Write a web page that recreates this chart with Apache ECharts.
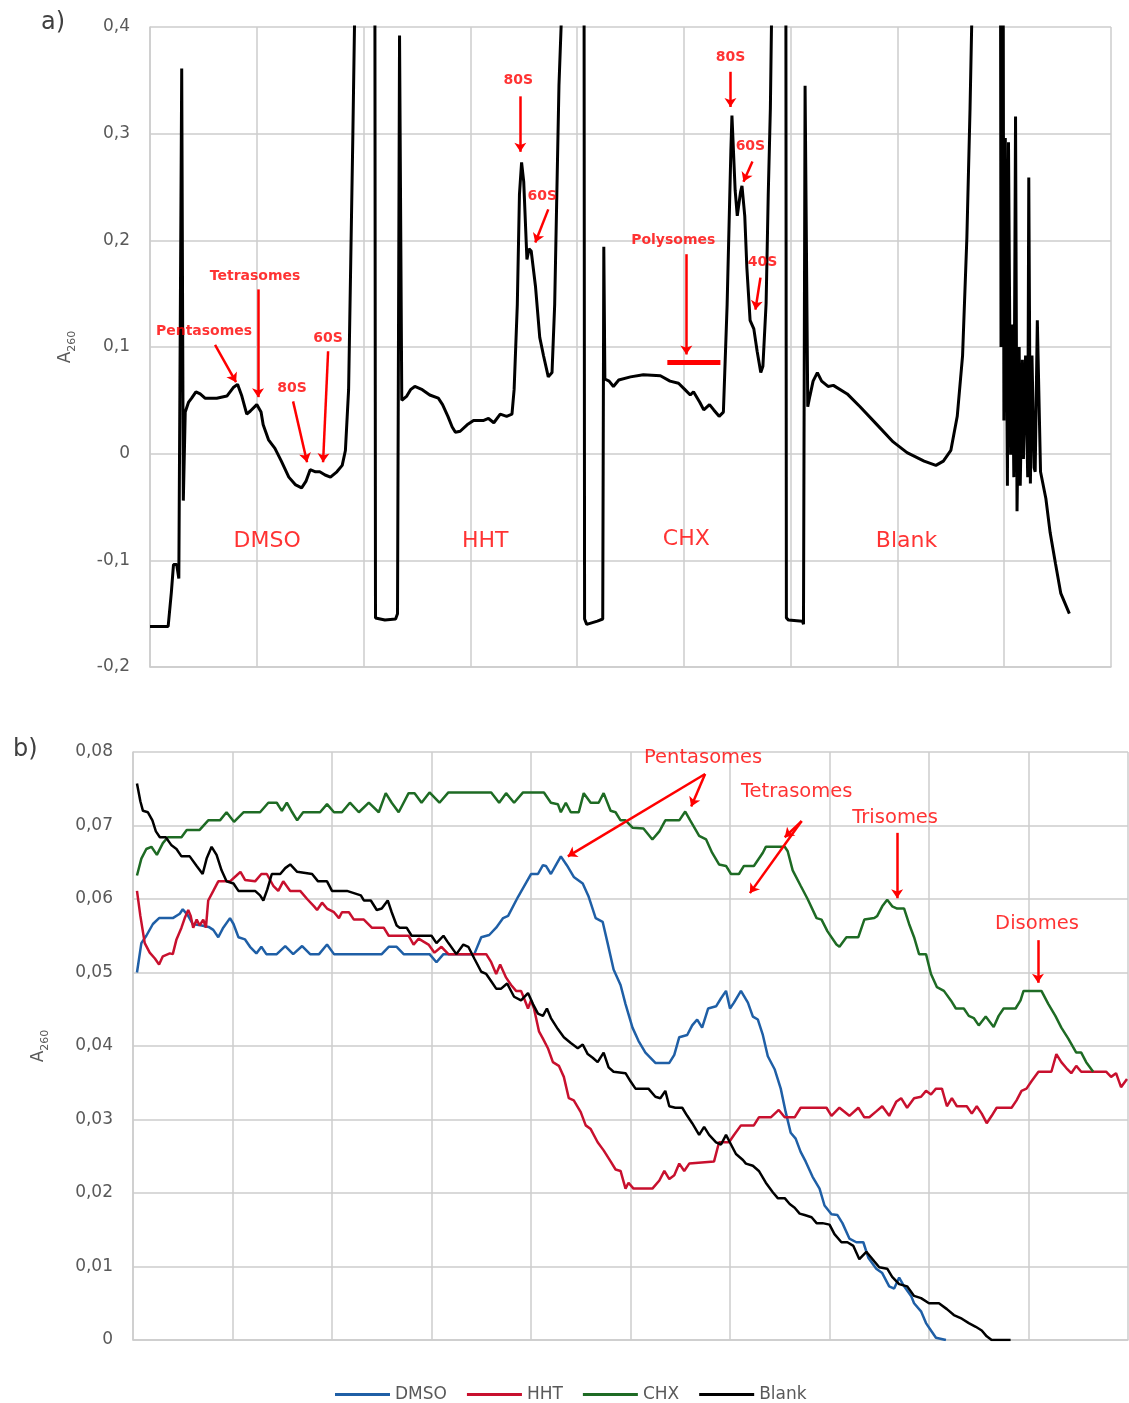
<!doctype html>
<html>
<head>
<meta charset="UTF-8">
<title>A260 profiles</title>
<script src="https://cdn.jsdelivr.net/npm/echarts@6/dist/echarts.min.js"></script>
<style>
html,body{margin:0;padding:0;background:#fff;}
#chart{width:1129px;height:1403px;}
</style>
</head>
<body>
<div id="chart"></div>
<script>
// panel a) : whole gradient trace, x in grid divisions
var topTrace = [
  [0,-0.162],[0.17,-0.162],[0.2,-0.13],[0.22,-0.104],[0.25,-0.104],[0.27,-0.117],[0.297,0.361],[0.312,-0.044],
  [0.33,0.039],[0.36,0.048],[0.39,0.052],[0.43,0.058],[0.47,0.056],[0.515,0.052],[0.625,0.052],[0.72,0.054],
  [0.78,0.062],[0.82,0.065],[0.86,0.054],[0.906,0.037],[0.94,0.040],[1.0,0.046],[1.04,0.039],[1.06,0.027],
  [1.11,0.013],[1.17,0.005],[1.23,-0.007],[1.30,-0.022],[1.36,-0.029],[1.42,-0.032],[1.46,-0.026],[1.50,-0.015],
  [1.55,-0.017],[1.59,-0.017],[1.64,-0.020],[1.69,-0.022],[1.75,-0.017],[1.80,-0.011],[1.83,0.003],[1.86,0.06],
  [1.88,0.18],[1.90,0.30],[1.915,0.40],[2.0,0.8],[2.106,0.45],[2.112,-0.154],[2.2,-0.156],[2.3,-0.155],
  [2.318,-0.15],[2.337,0.392],[2.358,0.05],[2.405,0.054],[2.44,0.06],[2.48,0.063],[2.55,0.06],[2.62,0.055],
  [2.70,0.052],[2.74,0.046],[2.79,0.035],[2.83,0.025],[2.86,0.020],[2.905,0.021],[2.97,0.027],[3.03,0.031],
  [3.12,0.031],[3.17,0.033],[3.22,0.029],[3.28,0.037],[3.34,0.035],[3.39,0.037],[3.41,0.06],[3.44,0.14],
  [3.46,0.243],[3.48,0.273],[3.50,0.255],[3.53,0.182],[3.55,0.192],[3.57,0.19],[3.61,0.157],[3.65,0.109],
  [3.685,0.092],[3.73,0.072],[3.765,0.076],[3.79,0.14],[3.81,0.243],[3.83,0.345],[3.85,0.4],[3.95,0.8],
  [4.065,0.45],[4.07,-0.155],[4.09,-0.16],[4.19,-0.157],[4.24,-0.155],[4.25,0.194],[4.26,0.07],[4.30,0.068],
  [4.34,0.063],[4.39,0.069],[4.50,0.072],[4.62,0.074],[4.78,0.073],[4.87,0.068],[4.95,0.066],[5.01,0.06],
  [5.06,0.055],[5.09,0.058],[5.15,0.048],[5.186,0.041],[5.24,0.046],[5.28,0.041],[5.33,0.035],[5.37,0.039],
  [5.405,0.14],[5.44,0.284],[5.45,0.317],[5.48,0.247],[5.50,0.223],[5.53,0.245],[5.544,0.251],[5.57,0.223],
  [5.59,0.174],[5.62,0.125],[5.655,0.117],[5.686,0.096],[5.72,0.076],[5.74,0.082],[5.77,0.141],[5.79,0.243],
  [5.81,0.324],[5.82,0.4],[5.88,0.8],[5.955,0.45],[5.96,-0.154],[5.98,-0.156],[6.11,-0.157],[6.12,-0.16],
  [6.135,0.345],[6.16,0.044],[6.18,0.054],[6.21,0.068],[6.25,0.076],[6.29,0.068],[6.35,0.063],[6.40,0.064],
  [6.53,0.056],[6.65,0.044],[6.81,0.027],[6.96,0.011],[7.09,0.001],[7.25,-0.007],[7.36,-0.011],[7.43,-0.007],
  [7.5,0.003],[7.56,0.035],[7.61,0.092],[7.65,0.202],[7.68,0.324],[7.695,0.4],[7.8,0.8],[7.962,0.45],
  [7.966,0.4],[7.97,0.1],[7.99,0.45],[7.997,0.031],[8.01,0.296],[8.03,-0.03],[8.04,0.292],[8.06,-0.001],
  [8.075,0.121],[8.09,-0.022],[8.106,0.316],[8.12,-0.054],[8.14,0.1],[8.15,-0.03],[8.17,0.088],[8.18,-0.005],
  [8.20,0.092],[8.22,-0.022],[8.23,0.259],[8.245,-0.028],[8.26,0.092],[8.28,-0.013],[8.29,-0.017],[8.31,0.125],
  [8.325,0.125],[8.34,-0.017],[8.39,-0.042],[8.43,-0.074],[8.48,-0.103],[8.53,-0.131],[8.61,-0.15]
];

var topLabels = [
  ['Pentasomes',0.506,0.115],['Tetrasomes',0.984,0.166],['80S',1.331,0.061],['60S',1.668,0.108],
  ['80S',3.449,0.35],['60S',3.674,0.241],['Polysomes',4.90,0.2],['80S',5.436,0.372],['60S',5.623,0.288],['40S',5.736,0.179]
];
var topGroups = [['DMSO',1.097,-0.082],['HHT',3.14,-0.082],['CHX',5.023,-0.08],['Blank',7.085,-0.082]];
var topArrows = [
  [0.609,0.102,0.806,0.067],[1.012,0.154,1.012,0.053],[1.34,0.049,1.471,-0.008],[1.668,0.096,1.621,-0.008],
  [3.468,0.335,3.468,0.283],[3.73,0.229,3.608,0.198],[5.023,0.187,5.023,0.093],
  [5.436,0.358,5.436,0.325],[5.642,0.274,5.558,0.255],[5.717,0.165,5.67,0.135]
];
var polysomeBar = [4.845,5.342,0.086];

// panel b) : zoom on the polysome region
var dmso = [
  [0.04,0.050],[0.084,0.054],[0.134,0.055],[0.2,0.0566],[0.262,0.0574],[0.4,0.0574],[0.47,0.058],[0.5,0.0586],
  [0.55,0.0578],[0.6,0.0566],[0.69,0.0564],[0.76,0.0562],[0.807,0.0558],[0.857,0.0548],[0.907,0.0561],[0.975,0.0574],
  [1.01,0.0566],[1.06,0.0548],[1.126,0.0545],[1.176,0.0535],[1.24,0.0526],[1.29,0.0535],[1.34,0.0525],[1.445,0.0525],
  [1.53,0.0536],[1.61,0.0525],[1.70,0.0536],[1.78,0.0525],[1.87,0.0525],[1.95,0.0538],[2.02,0.0525],[2.5,0.0525],
  [2.57,0.0535],[2.65,0.0535],[2.72,0.0525],[2.98,0.0525],[3.05,0.0514],[3.12,0.0525],[3.43,0.0525],[3.5,0.0548],
  [3.58,0.0551],[3.65,0.0561],[3.72,0.0574],[3.77,0.0577],[3.87,0.0603],[4.0,0.0634],[4.07,0.0634],[4.12,0.0646],
  [4.15,0.0645],[4.2,0.0634],[4.25,0.0646],[4.3,0.0658],[4.36,0.0646],[4.43,0.063],[4.52,0.0621],[4.58,0.0603],
  [4.65,0.0574],[4.72,0.0569],[4.77,0.054],[4.83,0.0504],[4.9,0.0483],[4.95,0.0457],[5.02,0.0425],[5.08,0.0407],
  [5.15,0.0391],[5.25,0.0377],[5.39,0.0377],[5.44,0.0388],[5.49,0.0412],[5.57,0.0415],[5.62,0.0428],[5.67,0.0436],
  [5.72,0.0425],[5.78,0.0451],[5.86,0.0454],[5.91,0.0465],[5.96,0.0475],[6.0,0.0451],[6.04,0.0459],[6.11,0.0475],
  [6.18,0.0459],[6.23,0.044],[6.28,0.0436],[6.33,0.0415],[6.38,0.0386],[6.45,0.0368],[6.51,0.0342],[6.56,0.031],
  [6.61,0.0282],[6.66,0.0274],[6.71,0.0256],[6.76,0.0243],[6.83,0.0222],[6.9,0.0206],[6.95,0.0183],[7.02,0.0171],
  [7.08,0.017],[7.13,0.0159],[7.2,0.0138],[7.27,0.0133],[7.34,0.0133],[7.39,0.0112],[7.47,0.0097],[7.53,0.0091],
  [7.6,0.0073],[7.65,0.007],[7.7,0.0085],[7.75,0.0073],[7.82,0.006],[7.85,0.005],[7.92,0.0039],[7.97,0.0023],
  [8.02,0.0013],[8.07,0.0003],[8.17,0]
];
var hht = [
  [0.04,0.0611],[0.074,0.0577],[0.118,0.054],[0.168,0.0527],[0.22,0.0519],[0.262,0.0511],[0.30,0.0522],[0.37,0.0526],
  [0.40,0.0525],[0.437,0.0545],[0.487,0.0561],[0.52,0.0574],[0.555,0.0585],[0.58,0.0577],[0.605,0.0561],[0.64,0.0572],
  [0.67,0.0564],[0.706,0.0572],[0.733,0.0561],[0.756,0.0598],[0.807,0.0611],[0.857,0.0624],[0.975,0.0624],[1.04,0.0632],
  [1.08,0.0637],[1.126,0.0626],[1.227,0.0624],[1.29,0.0634],[1.345,0.0634],[1.41,0.0618],[1.46,0.0611],[1.51,0.0624],
  [1.58,0.0611],[1.68,0.0611],[1.75,0.06],[1.82,0.059],[1.85,0.0585],[1.9,0.0595],[1.95,0.0587],[2.02,0.0582],
  [2.07,0.0574],[2.1,0.0582],[2.17,0.0582],[2.22,0.0572],[2.32,0.0572],[2.4,0.0561],[2.52,0.0561],[2.57,0.055],
  [2.77,0.055],[2.82,0.0538],[2.87,0.0546],[2.97,0.0538],[3.03,0.0527],[3.1,0.0535],[3.17,0.0525],[3.55,0.0525],
  [3.6,0.0514],[3.65,0.0498],[3.69,0.0511],[3.75,0.0493],[3.8,0.0483],[3.85,0.0475],[3.9,0.0475],[3.93,0.0465],
  [3.97,0.0451],[4.0,0.0462],[4.03,0.0451],[4.08,0.042],[4.12,0.041],[4.17,0.0397],[4.22,0.0378],[4.28,0.0373],
  [4.33,0.0358],[4.38,0.0329],[4.43,0.0326],[4.5,0.031],[4.55,0.0292],[4.6,0.0287],[4.67,0.0269],[4.73,0.0258],
  [4.8,0.0243],[4.85,0.0232],[4.9,0.023],[4.95,0.0206],[4.98,0.0214],[5.03,0.0206],[5.22,0.0206],[5.29,0.0217],
  [5.34,0.023],[5.39,0.0219],[5.44,0.0224],[5.49,0.024],[5.54,0.023],[5.59,0.024],[5.84,0.0243],[5.89,0.0269],
  [5.99,0.0269],[6.04,0.0279],[6.11,0.0292],[6.24,0.0292],[6.29,0.0303],[6.41,0.0303],[6.49,0.0313],[6.55,0.0303],
  [6.65,0.0303],[6.71,0.0316],[6.97,0.0316],[7.02,0.0305],[7.1,0.0316],[7.2,0.0305],[7.29,0.0316],[7.35,0.0303],
  [7.4,0.0303],[7.47,0.0311],[7.53,0.0318],[7.6,0.0305],[7.67,0.0324],[7.72,0.0329],[7.78,0.0316],[7.85,0.0329],
  [7.92,0.0331],[7.97,0.0339],[8.02,0.0334],[8.07,0.0342],[8.13,0.0342],[8.18,0.0318],[8.23,0.0329],[8.28,0.0318],
  [8.38,0.0318],[8.43,0.0308],[8.48,0.0318],[8.53,0.0308],[8.58,0.0295],[8.63,0.0305],[8.68,0.0316],[8.83,0.0316],
  [8.88,0.0326],[8.93,0.0339],[8.98,0.0342],[9.03,0.0352],[9.1,0.0365],[9.23,0.0365],[9.28,0.0389],[9.33,0.0378],
  [9.38,0.037],[9.43,0.0363],[9.48,0.0373],[9.53,0.0365],[9.78,0.0365],[9.83,0.0358],[9.88,0.0363],[9.93,0.0344],
  [9.99,0.0355]
];
var chx = [
  [0.04,0.0632],[0.084,0.0655],[0.134,0.0668],[0.185,0.0671],[0.24,0.066],[0.30,0.0676],[0.35,0.0684],[0.487,0.0684],
  [0.54,0.0694],[0.67,0.0694],[0.756,0.0707],[0.874,0.0707],[0.94,0.0718],[1.015,0.0705],[1.11,0.0718],[1.277,0.0718],
  [1.36,0.0731],[1.445,0.0731],[1.496,0.072],[1.546,0.0731],[1.6,0.0718],[1.65,0.0707],[1.71,0.0718],[1.88,0.0718],
  [1.95,0.0729],[2.02,0.0718],[2.1,0.0718],[2.18,0.0731],[2.27,0.0718],[2.37,0.0731],[2.47,0.0718],[2.54,0.0744],
  [2.6,0.0731],[2.67,0.0718],[2.77,0.0744],[2.83,0.0744],[2.9,0.0731],[2.98,0.0745],[3.08,0.0731],[3.17,0.0745],
  [3.6,0.0745],[3.68,0.0731],[3.75,0.0744],[3.83,0.0731],[3.92,0.0745],[4.13,0.0745],[4.2,0.0731],[4.27,0.0729],
  [4.3,0.0718],[4.35,0.0731],[4.4,0.0718],[4.48,0.0718],[4.53,0.0744],[4.6,0.0731],[4.68,0.0731],[4.73,0.0744],
  [4.8,0.072],[4.85,0.0718],[4.9,0.0707],[4.95,0.0707],[5.02,0.0697],[5.13,0.0696],[5.22,0.0681],[5.29,0.0692],
  [5.35,0.0707],[5.49,0.0707],[5.55,0.0719],[5.6,0.0707],[5.69,0.0686],[5.76,0.0681],[5.82,0.0663],[5.89,0.0647],
  [5.96,0.0645],[6.01,0.0634],[6.09,0.0634],[6.14,0.0645],[6.24,0.0645],[6.33,0.0663],[6.36,0.0671],[6.55,0.0671],
  [6.58,0.0665],[6.63,0.0639],[6.71,0.0618],[6.78,0.06],[6.87,0.0574],[6.92,0.0572],[6.98,0.0556],[7.07,0.0538],
  [7.1,0.0535],[7.17,0.0548],[7.29,0.0548],[7.35,0.0572],[7.45,0.0574],[7.48,0.0577],[7.53,0.059],[7.58,0.0599],
  [7.63,0.059],[7.68,0.0587],[7.75,0.0587],[7.8,0.0566],[7.85,0.0548],[7.9,0.0525],[7.97,0.0525],[8.02,0.0498],
  [8.08,0.048],[8.15,0.0475],[8.22,0.0462],[8.27,0.0451],[8.35,0.0451],[8.4,0.0441],[8.45,0.0438],[8.5,0.0428],
  [8.57,0.044],[8.65,0.0426],[8.7,0.0441],[8.75,0.0451],[8.87,0.0451],[8.92,0.0462],[8.95,0.0475],[9.13,0.0475],
  [9.2,0.0457],[9.27,0.0441],[9.33,0.0425],[9.4,0.041],[9.48,0.0391],[9.53,0.0391],[9.58,0.0378],[9.65,0.0365]
];
var blank = [
  [0.04,0.0757],[0.074,0.0733],[0.1,0.072],[0.15,0.0718],[0.195,0.0707],[0.23,0.0692],[0.27,0.0684],[0.33,0.0684],
  [0.387,0.0673],[0.437,0.0668],[0.487,0.0658],[0.57,0.0658],[0.64,0.0645],[0.7,0.0634],[0.74,0.0655],[0.79,0.0671],
  [0.84,0.066],[0.89,0.0639],[0.94,0.0624],[1.01,0.0621],[1.06,0.0611],[1.227,0.0611],[1.277,0.0605],[1.31,0.0598],
  [1.35,0.0613],[1.395,0.0634],[1.48,0.0634],[1.53,0.0642],[1.58,0.0647],[1.65,0.0637],[1.8,0.0634],[1.86,0.0624],
  [1.95,0.0624],[2.0,0.0611],[2.15,0.0611],[2.29,0.0605],[2.32,0.0598],[2.39,0.0598],[2.45,0.0585],[2.5,0.0587],
  [2.56,0.0598],[2.6,0.0582],[2.65,0.0564],[2.68,0.0561],[2.75,0.0561],[2.8,0.055],[3.0,0.055],[3.05,0.054],
  [3.12,0.055],[3.17,0.054],[3.25,0.0525],[3.32,0.0538],[3.37,0.0535],[3.43,0.0519],[3.5,0.0501],[3.55,0.0498],
  [3.6,0.0488],[3.65,0.0478],[3.7,0.0478],[3.76,0.0485],[3.83,0.0467],[3.9,0.0462],[3.97,0.0472],[4.02,0.0457],
  [4.07,0.0444],[4.12,0.0441],[4.16,0.0451],[4.2,0.0438],[4.27,0.0423],[4.33,0.0412],[4.4,0.0404],[4.47,0.0397],
  [4.52,0.0402],[4.57,0.0389],[4.62,0.0384],[4.67,0.0378],[4.73,0.0391],[4.78,0.0371],[4.83,0.0365],[4.95,0.0363],
  [5.0,0.0352],[5.05,0.0342],[5.18,0.0342],[5.25,0.0331],[5.3,0.0329],[5.35,0.0339],[5.39,0.0318],[5.45,0.0316],
  [5.52,0.0316],[5.57,0.0305],[5.62,0.0295],[5.69,0.0279],[5.74,0.029],[5.79,0.0279],[5.86,0.0269],[5.91,0.0266],
  [5.96,0.0279],[6.01,0.0266],[6.06,0.0253],[6.13,0.0245],[6.16,0.024],[6.23,0.0237],[6.29,0.023],[6.36,0.0214],
  [6.43,0.0201],[6.48,0.0193],[6.55,0.0193],[6.6,0.0185],[6.65,0.018],[6.7,0.0172],[6.75,0.017],[6.82,0.0167],
  [6.87,0.0159],[6.93,0.0159],[7.0,0.0157],[7.05,0.0144],[7.12,0.0133],[7.18,0.0133],[7.24,0.0128],[7.3,0.011],
  [7.37,0.012],[7.45,0.0107],[7.5,0.0099],[7.58,0.0097],[7.63,0.0086],[7.7,0.0076],[7.78,0.0073],[7.85,0.006],
  [7.92,0.0057],[8.0,0.005],[8.1,0.005],[8.18,0.0042],[8.25,0.0034],[8.33,0.0029],[8.4,0.0023],[8.47,0.0018],
  [8.53,0.0013],[8.58,0.0005],[8.63,0],[8.82,0]
];
var bottomLabels = [['Pentasomes',5.73,0.0792],['Tetrasomes',6.67,0.0746],['Trisomes',7.66,0.071],['Disomes',9.085,0.0566]];
var bottomArrows = [
  [5.75,0.077,4.37,0.0658],[5.75,0.077,5.61,0.0726],[6.72,0.0706,6.2,0.0608],[6.72,0.0706,6.55,0.0684],
  [7.68,0.069,7.68,0.0601],[9.095,0.0544,9.095,0.0486]
];

var gridColor = '#cccccc';
var axisText = '#595959';
var noteRed = '#ff0000';
var font = 'DejaVu Sans';

function arrowData(list) {
  return list.map(function (a) { return [{coord: [a[0], a[1]]}, {coord: [a[2], a[3]]}]; });
}
function labelData(list) {
  return list.map(function (l) { return {name: l[0], value: [l[1], l[2]]}; });
}
function commaFmt(digits) {
  return function (v) {
    var r = Math.round(v * 1000) / 1000;
    if (r === 0) return '0';
    return r.toFixed(digits).replace('.', ',');
  };
}
function xAx(idx, max) {
  return {
    gridIndex: idx, type: 'value', min: 0, max: max, interval: 1,
    axisLabel: {show: false}, axisTick: {show: false},
    axisLine: {show: true, onZero: false, lineStyle: {color: gridColor, width: 1.5}},
    splitLine: {show: true, lineStyle: {color: gridColor, width: 1.5}}
  };
}
function yAx(idx, min, max, step, digits, gap) {
  return {
    gridIndex: idx, type: 'value', min: min, max: max, interval: step,
    name: '{a|A}{s|260}', nameLocation: 'middle', nameGap: gap, nameRotate: 90,
    nameTextStyle: {rich: {
      a: {fontFamily: font, fontSize: 17, color: axisText, lineHeight: 24, verticalAlign: 'middle'},
      s: {fontFamily: font, fontSize: 11, color: axisText, lineHeight: 24, verticalAlign: 'bottom', padding: [8, 0, 0, 0]}
    }},
    axisLabel: {formatter: commaFmt(digits), color: axisText, fontFamily: font, fontSize: 17, margin: 20},
    axisTick: {show: false},
    axisLine: {show: true, onZero: false, lineStyle: {color: gridColor, width: 1.5}},
    splitLine: {show: true, lineStyle: {color: gridColor, width: 1.5}}
  };
}
function labelSeries(xi, list, size, weight, arrows) {
  var s = {
    type: 'scatter', xAxisIndex: xi, yAxisIndex: xi, silent: true,
    symbolSize: 1, itemStyle: {color: 'rgba(0,0,0,0)'},
    label: {show: true, position: 'inside', formatter: '{b}', color: noteRed,
      fontFamily: font, fontSize: size, fontWeight: weight},
    data: labelData(list), z: 5
  };
  if (arrows) {
    s.markLine = {
      silent: true, symbol: ['none', 'arrow'], symbolSize: 9,
      lineStyle: {color: noteRed, width: 2.5, type: 'solid', opacity: 1},
      label: {show: false}, emphasis: {disabled: true},
      data: arrows
    };
  }
  return s;
}
function lineSeries(name, data, color) {
  return {
    name: name, type: 'line', xAxisIndex: 1, yAxisIndex: 1, data: data,
    showSymbol: false, symbol: 'none', color: color,
    lineStyle: {color: color, width: 2.5}, z: 3
  };
}

var topMarks = arrowData(topArrows);
topMarks.push([
  {coord: [polysomeBar[0], polysomeBar[2]], symbol: 'none', lineStyle: {width: 5}},
  {coord: [polysomeBar[1], polysomeBar[2]], symbol: 'none'}
]);

var chart = echarts.init(document.getElementById('chart'));
chart.setOption({
  animation: false,
  backgroundColor: '#fff',
  title: [
    {text: 'a)', left: 36, top: 6, textStyle: {fontFamily: font, fontSize: 24, fontWeight: 'normal', color: '#404040'}},
    {text: 'b)', left: 8, top: 733, textStyle: {fontFamily: font, fontSize: 24, fontWeight: 'normal', color: '#404040'}}
  ],
  grid: [
    {left: 150, top: 27, width: 961, height: 640},
    {left: 133, top: 752, width: 995, height: 588}
  ],
  legend: {
    data: ['DMSO', 'HHT', 'CHX', 'Blank'], left: 330, top: 1381,
    icon: 'rect', itemWidth: 55, itemHeight: 3, itemGap: 20,
    textStyle: {color: axisText, fontFamily: font, fontSize: 17}
  },
  xAxis: [xAx(0, 9), xAx(1, 10)],
  yAxis: [yAx(0, -0.2, 0.4, 0.1, 1, 72), yAx(1, 0, 0.08, 0.01, 2, 82)],
  series: [
    {
      name: 'trace', type: 'line', xAxisIndex: 0, yAxisIndex: 0, data: topTrace,
      showSymbol: false, symbol: 'none', clip: true,
      lineStyle: {color: '#000', width: 3}, itemStyle: {color: '#000'}, z: 3
    },
    labelSeries(0, topLabels, 14, 'bold', topMarks),
    labelSeries(0, topGroups, 22, 'normal'),
    lineSeries('DMSO', dmso, '#1f5fa6'),
    lineSeries('HHT', hht, '#c8102e'),
    lineSeries('CHX', chx, '#1e6b24'),
    lineSeries('Blank', blank, '#000000'),
    labelSeries(1, bottomLabels, 19.5, 'normal', arrowData(bottomArrows))
  ]
});
</script>
</body>
</html>
